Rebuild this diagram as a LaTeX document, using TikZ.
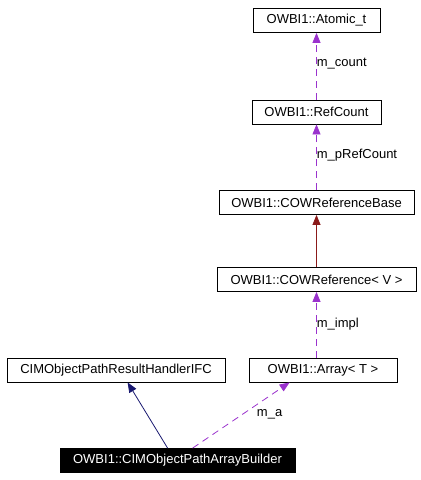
\documentclass[tikz,border=0pt]{standalone}
\usepackage{fontspec}
\setmainfont{Liberation Sans}
\usepackage{tikz}
\usetikzlibrary{positioning,arrows.meta,calc}

\definecolor{usecol}{HTML}{9A32CD}
\definecolor{inhcol}{HTML}{191970}
\definecolor{tplcol}{HTML}{8B1A1A}

\begin{document}
\begin{tikzpicture}[x=1pt, y=-1pt,
  font=\fontsize{13}{15}\selectfont,
  cls/.style={rectangle, draw, line width=0.8pt, minimum height=24pt, inner xsep=4pt, inner ysep=0pt},
  focus/.style={cls, fill=black, text=white},
  usage/.style={usecol, line width=0.8pt, dash pattern=on 7pt off 5pt, -{Triangle[length=10pt,width=8pt]}},
  inherit/.style={inhcol, line width=0.8pt, -{Triangle[length=10pt,width=8pt]}},
  tmpl/.style={tplcol, line width=0.8pt, -{Triangle[length=10pt,width=8pt]}},
  lbl/.style={black, anchor=west, inner sep=0pt}]
  \useasboundingbox (0,0) rectangle (421,480);

  % Classes
  \node[cls, minimum width=127pt] (atomic) at (316.5, 20.5) {OWBI1::Atomic\_t};
  \node[cls, minimum width=129pt] (refcount) at (316.5, 112) {OWBI1::RefCount};
  \node[cls, minimum width=195pt] (cowbase) at (316.5, 202.5) {OWBI1::COWReferenceBase};
  \node[cls, minimum width=199pt] (cowref) at (316.5, 279.5) {OWBI1::COWReference< V >};
  \node[cls, minimum width=148pt] (array) at (323, 370) {OWBI1::Array< T >};
  \node[cls, minimum width=218pt] (ifc) at (116, 370) {CIMObjectPathResultHandlerIFC};

  % Builder
  \node[focus, minimum width=235pt] (builder) at (177.5, 460.5) {OWBI1::CIMObjectPathArrayBuilder};

  % Connexions
  \draw[usage] (refcount.north) -- node[lbl, pos=0.54] {m\_count} (atomic.south);
  \draw[usage] (cowbase.north) -- node[lbl, pos=0.53] {m\_pRefCount} (refcount.south);
  \draw[tmpl] (cowref.north) -- (cowbase.south);
  \draw[usage] (array.north -| cowref) -- node[lbl, pos=0.51] {m\_impl} (cowref.south);
  \draw[inherit] ($(builder.north west)+(108,0)$) -- ($(ifc.south west)+(121,0)$);
  \draw[usage] ($(builder.north west)+(133,0)$) -- node[lbl, pos=0.515, xshift=14pt] {m\_a} ($(array.south west)+(41,0)$);
\end{tikzpicture}
\end{document}
